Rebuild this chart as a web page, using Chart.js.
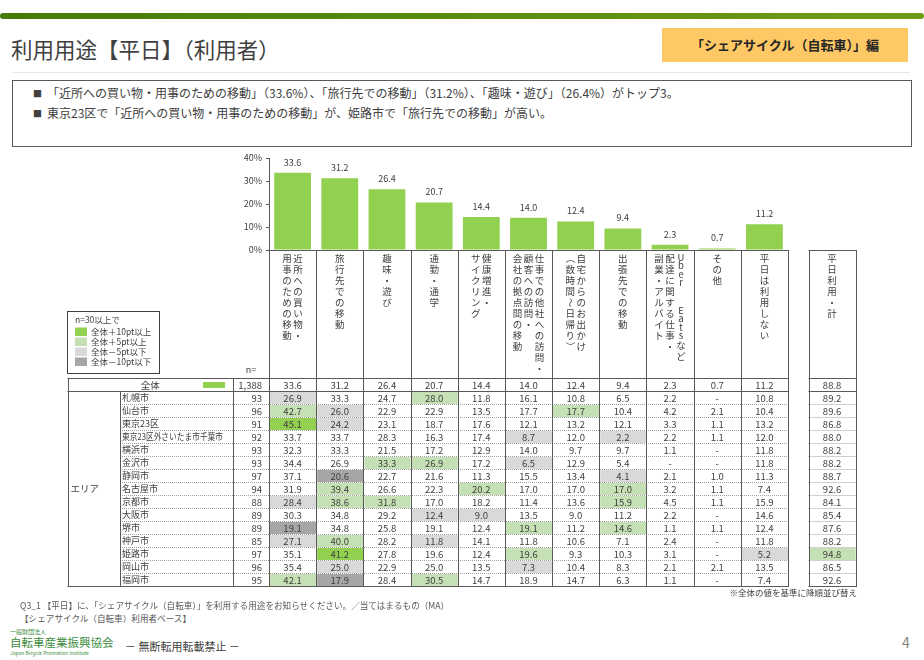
<!DOCTYPE html>
<html lang="ja">
<head>
<meta charset="utf-8">
<script src="https://cdn.jsdelivr.net/npm/chart.js@4.4.1/dist/chart.umd.min.js"></script>
<style>
  html, body { margin: 0; padding: 0; background: #fff; }
  body { width: 924px; height: 660px; position: relative; overflow: hidden;
         font-family: "Noto Sans CJK JP", "Noto Sans", sans-serif; color: #404040; }
  .abs { position: absolute; white-space: nowrap; }
  #topbar { left: 0; top: 13px; width: 924px; height: 6px; border-radius: 3px;
            background: linear-gradient(to right, #477a08, #6e9d14); }
  #title { left: 11px; top: 34px; font-size: 21.5px; line-height: 30px; }
  #badge { left: 662px; top: 28px; width: 246px; height: 34px; background: #fec865;
           font-weight: bold; font-size: 13px; line-height: 34px; text-align: center; color: #262626; }
  #rule { left: 12px; top: 72px; width: 898px; height: 1px; background: #e8e8e8; }
  #summary { left: 12px; top: 80px; width: 900px; height: 67px; border: 1px solid #595959; box-sizing: border-box; }
  #summary .line { position: absolute; left: 20px; font-size: 12px; line-height: 16px; white-space: nowrap; }
  #summary .b { font-size: 9px; margin-right: 5px; position: relative; top: -1px; }
  #chartWrap { left: 0; top: 148px; width: 924px; height: 452px; }
  #note { right: 67px; top: 586px; font-size: 8.5px; line-height: 12px; }
  .q { left: 20px; font-size: 8.6px; line-height: 12px; color: #595959; }
  #org1 { left: 10px; top: 628px; font-size: 6px; line-height: 7px; color: #3c8c3c; }
  #org2 { left: 10px; top: 635px; font-size: 11.5px; line-height: 15px; color: #3c8c3c; }
  #org3 { left: 10px; top: 650px; font-size: 5px; line-height: 6px; color: #3c8c3c; }
  #nocopy { left: 125px; top: 638px; font-size: 11px; line-height: 16px; color: #404040; }
  #page { left: 902px; top: 633px; font-size: 14px; line-height: 18px; color: #7f7f7f; }
</style>
</head>
<body>
<div id="topbar" class="abs"></div>
<div id="title" class="abs">利用用途【平日】（利用者）</div>
<div id="badge" class="abs">「シェアサイクル（自転車）」編</div>
<div id="rule" class="abs"></div>
<div id="summary" class="abs">
  <div class="line" style="top:4px"><span class="b">■</span>「近所への買い物・用事のための移動」（33.6%）、「旅行先での移動」（31.2%）、「趣味・遊び」（26.4%）がトップ3。</div>
  <div class="line" style="top:24px"><span class="b">■</span>東京23区で「近所への買い物・用事のための移動」が、姫路市で「旅行先での移動」が高い。</div>
</div>
<div id="chartWrap" class="abs"><canvas id="grafico" width="924" height="452"></canvas></div>
<div id="note" class="abs">※全体の値を基準に降順並び替え</div>
<div class="abs q" style="top:599px">Q3_1 【平日】に、「シェアサイクル（自転車）」を利用する用途をお知らせください。／当てはまるもの（MA）</div>
<div class="abs q" style="top:612px">【シェアサイクル（自転車）利用者ベース】</div>
<div id="org1" class="abs">一般財団法人</div>
<div id="org2" class="abs">自転車産業振興協会</div>
<div id="org3" class="abs">Japan Bicycle Promotion Institute</div>
<div id="nocopy" class="abs">－ 無断転用転載禁止 －</div>
<div id="page" class="abs">4</div>

<script>
var FONT = '"Noto Sans CJK JP", "Noto Sans", sans-serif';

// 用途（降順）  \n = 縦書きの改行
var categories = [
	'近所への買い物・\n用事のための移動',
	'旅行先での移動',
	'趣味・遊び',
	'通勤・通学',
	'健康増進・\nサイクリング',
	'仕事での他社への訪問・\n顧客への訪問・\n会社の拠点間の移動',
	'自宅からのお出かけ\n（数時間～日帰り）',
	'出張先での移動',
	'Uber Eatsなど\n配達に関する仕事・\n副業・アルバイト',
	'その他',
	'平日は利用しない'
];
var totalLabel = '平日利用・計';

// 全体
var overallN = 1388;
var overallValues = [33.6, 31.2, 26.4, 20.7, 14.4, 14.0, 12.4, 9.4, 2.3, 0.7, 11.2];
var overallTotal = 88.8;

// エリア別  (null = "-")
var cities = ['札幌市', '仙台市', '東京23区', '東京23区外さいたま市千葉市', '横浜市', '金沢市', '静岡市',
	'名古屋市', '京都市', '大阪市', '堺市', '神戸市', '姫路市', '岡山市', '福岡市'];
var cityN = [93, 96, 91, 92, 93, 93, 97, 94, 88, 89, 89, 85, 97, 96, 95];
var cityValues = [
	[26.9, 33.3, 24.7, 28.0, 11.8, 16.1, 10.8, 6.5, 2.2, null, 10.8],
	[42.7, 26.0, 22.9, 22.9, 13.5, 17.7, 17.7, 10.4, 4.2, 2.1, 10.4],
	[45.1, 24.2, 23.1, 18.7, 17.6, 12.1, 13.2, 12.1, 3.3, 1.1, 13.2],
	[33.7, 33.7, 28.3, 16.3, 17.4, 8.7, 12.0, 2.2, 2.2, 1.1, 12.0],
	[32.3, 33.3, 21.5, 17.2, 12.9, 14.0, 9.7, 9.7, 1.1, null, 11.8],
	[34.4, 26.9, 33.3, 26.9, 17.2, 6.5, 12.9, 5.4, null, null, 11.8],
	[37.1, 20.6, 22.7, 21.6, 11.3, 15.5, 13.4, 4.1, 2.1, 1.0, 11.3],
	[31.9, 39.4, 26.6, 22.3, 20.2, 17.0, 17.0, 17.0, 3.2, 1.1, 7.4],
	[28.4, 38.6, 31.8, 17.0, 18.2, 11.4, 13.6, 15.9, 4.5, 1.1, 15.9],
	[30.3, 34.8, 29.2, 12.4, 9.0, 13.5, 9.0, 11.2, 2.2, null, 14.6],
	[19.1, 34.8, 25.8, 19.1, 12.4, 19.1, 11.2, 14.6, 1.1, 1.1, 12.4],
	[27.1, 40.0, 28.2, 11.8, 14.1, 11.8, 10.6, 7.1, 2.4, null, 11.8],
	[35.1, 41.2, 27.8, 19.6, 12.4, 19.6, 9.3, 10.3, 3.1, null, 5.2],
	[35.4, 25.0, 22.9, 25.0, 13.5, 7.3, 10.4, 8.3, 2.1, 2.1, 13.5],
	[42.1, 17.9, 28.4, 30.5, 14.7, 18.9, 14.7, 6.3, 1.1, null, 7.4]
];
var cityTotals = [89.2, 89.6, 86.8, 88.0, 88.2, 88.2, 88.7, 92.6, 84.1, 85.4, 87.6, 88.2, 94.8, 86.5, 92.6];

var yTicks = [0, 10, 20, 30, 40];

var legendTitle = 'n=30以上で';
var legendLabels = ['全体＋10pt以上', '全体＋5pt以上', '全体－5pt以下', '全体－10pt以下'];
var legendColors = ['#92d050', '#c5e0b4', '#d9d9d9', '#a6a6a6'];

var BAR = '#92d050';
var TXT = '#404040';
var LINE = '#595959';

function corCelula(v, base) {
	var d = Math.round(((v == null ? 0 : v) - base) * 10) / 10;
	if (d >= 10) return legendColors[0];
	if (d >= 5) return legendColors[1];
	if (d <= -10) return legendColors[3];
	if (d <= -5) return legendColors[2];
	return null;
}

function fmt(v) { return v == null ? '-' : v.toFixed(1); }

function hline(ctx, x1, x2, y) {
	ctx.beginPath(); ctx.moveTo(x1, Math.round(y) + 0.5); ctx.lineTo(x2, Math.round(y) + 0.5); ctx.stroke();
}
function vline(ctx, x, y1, y2) {
	ctx.beginPath(); ctx.moveTo(Math.round(x) + 0.5, y1); ctx.lineTo(Math.round(x) + 0.5, y2); ctx.stroke();
}

// 縦書き: 1文字ずつ描く
function drawVertical(ctx, text, x, top) {
	var y = top;
	for (var i = 0; i < text.length; i++) {
		var ch = text[i];
		var adv = ch === ' ' ? 19 : (/[A-Za-z0-9]/.test(ch) ? 8.5 : 11);
		var cy = y + adv / 2;
		if (ch !== ' ') {
			if ('（）～'.indexOf(ch) >= 0) {
				ctx.save(); ctx.translate(x, cy); ctx.rotate(Math.PI / 2); ctx.fillText(ch, 0, 0); ctx.restore();
			} else {
				ctx.fillText(ch, x, cy);
			}
		}
		y += adv;
	}
}

var rotulosValores = {
	id: 'rotulosValores',
	afterDatasetsDraw: function(chart) {
		var ctx = chart.ctx;
		var meta = chart.getDatasetMeta(0);
		ctx.save();
		ctx.font = '9px ' + FONT;
		ctx.fillStyle = TXT;
		ctx.textAlign = 'center';
		ctx.textBaseline = 'middle';
		meta.data.forEach(function(bar, i) {
			ctx.fillText(overallValues[i].toFixed(1), bar.x, bar.y - 10.5);
		});
		ctx.restore();
	}
};

var tabelaArea = {
	id: 'tabelaArea',
	afterDraw: function(chart) {
		var ctx = chart.ctx;
		var xs = chart.scales.x;
		var area = chart.chartArea;
		var colW = xs.getPixelForTick(1) - xs.getPixelForTick(0);
		var cols = [];
		for (var i = 0; i < categories.length; i++) cols.push(xs.getPixelForTick(i) - colW / 2);
		var lastCol = area.right + 20.5;

		var headTop = area.bottom;
		var rowTop = 230, rowH = 13;
		var citiesTop = rowTop + rowH;
		var bottom = citiesTop + rowH * cities.length;
		var tableLeft = 67.5, nameLeft = 120, nLeft = 233, dataLeft = area.left, dataRight = area.right;

		ctx.save();

		// 色付きセル
		cities.forEach(function(c, r) {
			var y = citiesTop + r * rowH;
			cityValues[r].forEach(function(v, k) {
				var col = corCelula(v, overallValues[k]);
				if (col) { ctx.fillStyle = col; ctx.fillRect(cols[k] + 1, y + 1, colW - 1, rowH - 1); }
			});
			var ct = corCelula(cityTotals[r], overallTotal);
			if (ct) { ctx.fillStyle = ct; ctx.fillRect(lastCol + 1, y + 1, colW - 1, rowH - 1); }
		});

		// 点線
		ctx.strokeStyle = '#a0a0a0';
		ctx.lineWidth = 1;
		ctx.setLineDash([1, 1]);
		for (var r = 1; r < cities.length; r++) {
			var yy = citiesTop + r * rowH;
			hline(ctx, nameLeft, dataRight, yy);
			hline(ctx, lastCol, lastCol + colW, yy);
		}
		ctx.setLineDash([]);

		// 実線
		ctx.strokeStyle = LINE;
		[rowTop, citiesTop, bottom].forEach(function(y) {
			hline(ctx, tableLeft, dataRight + 1, y);
			hline(ctx, lastCol, lastCol + colW + 1, y);
		});
		hline(ctx, lastCol, lastCol + colW + 1, headTop);
		vline(ctx, tableLeft, rowTop, bottom + 1);
		vline(ctx, nameLeft, citiesTop, bottom + 1);
		vline(ctx, nLeft, rowTop, bottom + 1);
		cols.concat([dataRight]).forEach(function(x) { vline(ctx, x, headTop, bottom + 1); });
		vline(ctx, lastCol, headTop, bottom + 1);
		vline(ctx, lastCol + colW, headTop, bottom + 1);

		// 凡例
		ctx.strokeStyle = '#404040';
		ctx.strokeRect(67.5, 163.5, 92, 62);
		ctx.font = '8.5px ' + FONT;
		ctx.fillStyle = TXT;
		ctx.textAlign = 'left';
		ctx.textBaseline = 'middle';
		ctx.fillText(legendTitle, 75, 172);
		legendLabels.forEach(function(l, i) {
			var y = 183.5 + i * 10;
			ctx.fillStyle = legendColors[i];
			ctx.fillRect(75, y - 4, 12, 8.5);
			ctx.fillStyle = TXT;
			ctx.fillText(l, 91, y);
		});

		// 見出し（縦書き）
		ctx.font = '9.5px ' + FONT;
		ctx.textAlign = 'center';
		var gap = 11;
		categories.concat([totalLabel]).forEach(function(label, k) {
			var cx = k < cols.length ? cols[k] + colW / 2 : lastCol + colW / 2;
			var lines = label.split('\n');
			lines.forEach(function(t, j) {
				var x = cx + ((lines.length - 1) / 2 - j) * gap;
				drawVertical(ctx, t, x, headTop + 3);
			});
		});

		ctx.font = '9px ' + FONT;
		ctx.fillText('n=', (nLeft + dataLeft) / 2, 222);

		// 全体行
		ctx.font = '9.5px ' + FONT;
		var my = rowTop + rowH / 2 + 0.5;
		ctx.fillText('全体', (tableLeft + nLeft) / 2, my);
		ctx.fillStyle = BAR;
		ctx.fillRect(203, my - 3, 22, 6);
		ctx.fillStyle = TXT;
		ctx.textAlign = 'right';
		ctx.fillText(overallN.toLocaleString('en-US'), dataLeft - 7, my);
		ctx.textAlign = 'center';
		overallValues.forEach(function(v, k) { ctx.fillText(fmt(v), cols[k] + colW / 2, my); });
		ctx.fillText(fmt(overallTotal), lastCol + colW / 2, my);

		// エリア
		ctx.textAlign = 'left';
		ctx.fillText('エリア', tableLeft + 3, (citiesTop + bottom) / 2);
		cities.forEach(function(c, r) {
			var y = citiesTop + r * rowH + rowH / 2 + 0.5;
			ctx.font = '9px ' + FONT;
			ctx.textAlign = 'left';
			ctx.fillText(c, nameLeft + 2, y, nLeft - nameLeft - 12);
			ctx.font = '9.5px ' + FONT;
			ctx.textAlign = 'right';
			ctx.fillText(String(cityN[r]), dataLeft - 7, y);
			ctx.textAlign = 'center';
			cityValues[r].forEach(function(v, k) { ctx.fillText(fmt(v), cols[k] + colW / 2, y); });
			ctx.fillText(fmt(cityTotals[r]), lastCol + colW / 2, y);
		});

		ctx.restore();
	}
};

var grafico = new Chart(document.getElementById('grafico'), {
	type: 'bar',
	data: {
		labels: categories,
		datasets: [{
			data: overallValues,
			backgroundColor: BAR,
			barPercentage: 0.78,
			categoryPercentage: 1
		}]
	},
	options: {
		responsive: false,
		animation: false,
		layout: { padding: { left: 229, right: 136, top: 10, bottom: 350 } },
		plugins: { legend: { display: false }, tooltip: { enabled: false } },
		scales: {
			x: {
				grid: { display: false, drawTicks: false },
				ticks: { display: false },
				border: { color: LINE },
				afterFit: function(s) { s.height = 0; }
			},
			y: {
				min: yTicks[0],
				max: yTicks[yTicks.length - 1],
				afterBuildTicks: function(s) { s.ticks = yTicks.map(function(v) { return { value: v }; }); },
				ticks: {
					callback: function(v) { return v + '%'; },
					font: { size: 9, family: FONT },
					color: TXT,
					padding: 4
				},
				grid: { drawOnChartArea: false, tickLength: 3, color: LINE },
				border: { color: LINE },
				afterFit: function(s) { s.width = 40; }
			}
		}
	},
	plugins: [rotulosValores, tabelaArea]
});
</script>
</body>
</html>
